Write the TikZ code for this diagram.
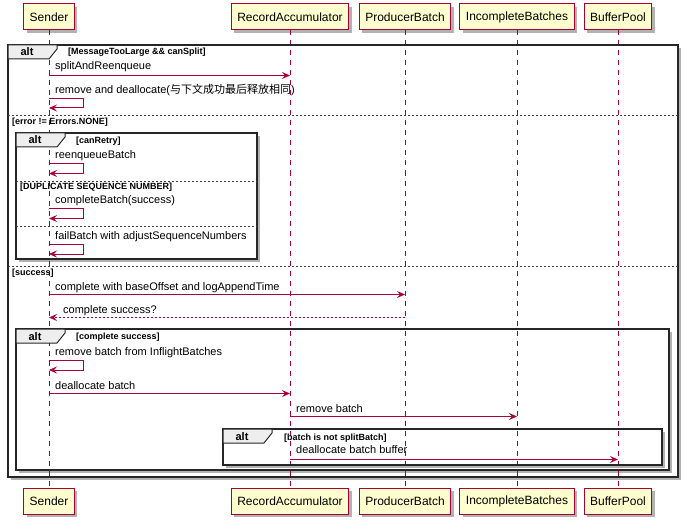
\documentclass[tikz,border=0pt]{standalone}
\usepackage{fontspec}
\setmainfont{Liberation Sans}
\newfontfamily\cjk{Noto Sans CJK SC}
\usetikzlibrary{arrows.meta,shadows}
\definecolor{pbord}{HTML}{A80036}
\definecolor{pfill}{HTML}{FEFECE}
\definecolor{tabfill}{HTML}{EEEEEE}
\tikzset{
  part/.style={draw=pbord, fill=pfill, line width=1pt, minimum height=26pt, inner xsep=6pt,
    font=\fontsize{12}{14}\selectfont,
    drop shadow={shadow xshift=3pt, shadow yshift=-3pt, opacity=0.3, fill=black}},
  life/.style={draw=pbord, line width=1pt, dash pattern=on 5pt off 5pt},
  msg/.style={draw=pbord, line width=1pt, -{Stealth[length=8pt,width=7pt,inset=3pt]}},
  ret/.style={msg, dash pattern=on 2pt off 2pt},
  lbl/.style={anchor=base west, inner sep=0pt, font=\fontsize{11}{13}\selectfont},
  frameshadow/.style={fill=white, drop shadow={shadow xshift=3pt, shadow yshift=-3pt, opacity=0.3, fill=black}},
  frameline/.style={draw=black!85, line width=1.5pt},
  tabshape/.style={fill=tabfill, draw=black!85, line width=1pt},
  sepline/.style={draw=black!75, line width=1pt, dash pattern=on 2pt off 2pt},
  cond/.style={anchor=base west, inner sep=0pt, font=\fontsize{9}{10}\selectfont\bfseries},
  alttxt/.style={anchor=base, inner sep=0pt, font=\fontsize{11}{13}\selectfont\bfseries},
}
\begin{document}
\begin{tikzpicture}[x=1pt, y=-1pt]
\useasboundingbox (0,0) rectangle (688,524);
% frame backgrounds with shadows
\path[frameshadow] (8,45) rectangle (678,477);
\path[frameshadow] (16,133) rectangle (257,259);
\path[frameshadow] (16,329) rectangle (669,470);
\path[frameshadow] (223,429) rectangle (662,465);
% participants
\node[part] (s)  at (49,17)  {Sender};
\node[part] (ra) at (290,17) {RecordAccumulator};
\node[part] (pb) at (405,17) {ProducerBatch};
\node[part] (ib) at (517,17) {IncompleteBatches};
\node[part] (bp) at (618,17) {BufferPool};
\node[part] (s2)  at (49,501)  {Sender};
\node[part] (ra2) at (290,501) {RecordAccumulator};
\node[part] (pb2) at (405,501) {ProducerBatch};
\node[part] (ib2) at (517,501) {IncompleteBatches};
\node[part] (bp2) at (618,501) {BufferPool};
% lifelines
\draw[life] (s.south) -- (s2.north);
\draw[life] (ra.south) -- (ra2.north);
\draw[life] (pb.south) -- (pb2.north);
\draw[life] (ib.south) -- (ib2.north);
\draw[life] (bp.south) -- (bp2.north);
% frame borders
\draw[frameline] (8,45) rectangle (678,477);
\draw[frameline] (16,133) rectangle (257,259);
\draw[frameline] (16,329) rectangle (669,470);
\draw[frameline] (223,429) rectangle (662,465);
% tabs
\draw[tabshape] (8,45) -- (57,45) -- (57,49) -- (49,59) -- (8,59) -- cycle;
\node[alttxt] (t1) at (27,56) {alt};
\node[cond] (c1) at (68,55) {[MessageTooLarge \&\& canSplit]};
\draw[tabshape] (16,133) -- (65,133) -- (65,137) -- (57,147) -- (16,147) -- cycle;
\node[alttxt] (t2) at (35,144) {alt};
\node[cond] (c2) at (76,143) {[canRetry]};
\draw[tabshape] (16,329) -- (65,329) -- (65,333) -- (57,343) -- (16,343) -- cycle;
\node[alttxt] (t3) at (35,340) {alt};
\node[cond] (c3) at (76,339) {[complete success]};
\draw[tabshape] (223,429) -- (272,429) -- (272,433) -- (264,443) -- (223,443) -- cycle;
\node[alttxt] (t4) at (242,440) {alt};
\node[cond] (c4) at (284,440) {[batch is not splitBatch]};
% separators
\draw[sepline] (8,116) -- (678,116);
\node[cond] (e1) at (12,124.5) {[error != Errors.NONE]};
\draw[sepline] (16,181) -- (257,181);
\node[cond] (e2) at (20,189) {[DUPLICATE SEQUENCE NUMBER]};
\draw[sepline] (16,226) -- (257,226);
\draw[sepline] (8,266) -- (678,266);
\node[cond] (e3) at (12,275) {[success]};
% messages
\node[lbl] (m1) at (55,70) {splitAndReenqueue};
\draw[msg] (s |- 0,75.5) -- (ra |- 0,75.5);
\node[lbl] (m2) at (55,94) {remove and deallocate({\cjk 与下文成功最后释放相同})};
\draw[msg] (s |- 0,99) -- ++(34,0) -- ++(0,9) -- (s |- 0,108);
\node[lbl] (m3) at (55,158) {reenqueueBatch};
\draw[msg] (s |- 0,163.5) -- ++(34,0) -- ++(0,10) -- (s |- 0,173.5);
\node[lbl] (m4) at (55,203.5) {completeBatch(success)};
\draw[msg] (s |- 0,208.5) -- ++(34,0) -- ++(0,10) -- (s |- 0,218.5);
\node[lbl] (m5) at (55,239) {failBatch with adjustSequenceNumbers};
\draw[msg] (s |- 0,244) -- ++(34,0) -- ++(0,10) -- (s |- 0,254);
\node[lbl] (m6) at (55,290) {complete with baseOffset and logAppendTime};
\draw[msg] (s |- 0,294.5) -- (pb |- 0,294.5);
\node[lbl] (m7) at (63,313) {complete success?};
\draw[ret] (pb |- 0,317.5) -- (s |- 0,317.5);
\node[lbl] (m8) at (55,355) {remove batch from InflightBatches};
\draw[msg] (s |- 0,360) -- ++(34,0) -- ++(0,10) -- (s |- 0,370);
\node[lbl] (m9) at (55,389) {deallocate batch};
\draw[msg] (s |- 0,393.5) -- (ra |- 0,393.5);
\node[lbl] (m10) at (296,412) {remove batch};
\draw[msg] (ra |- 0,416.5) -- (ib |- 0,416.5);
\node[lbl] (m11) at (296,453) {deallocate batch buffer};
\draw[msg] (ra |- 0,459.5) -- (bp |- 0,459.5);
\end{tikzpicture}
\end{document}
